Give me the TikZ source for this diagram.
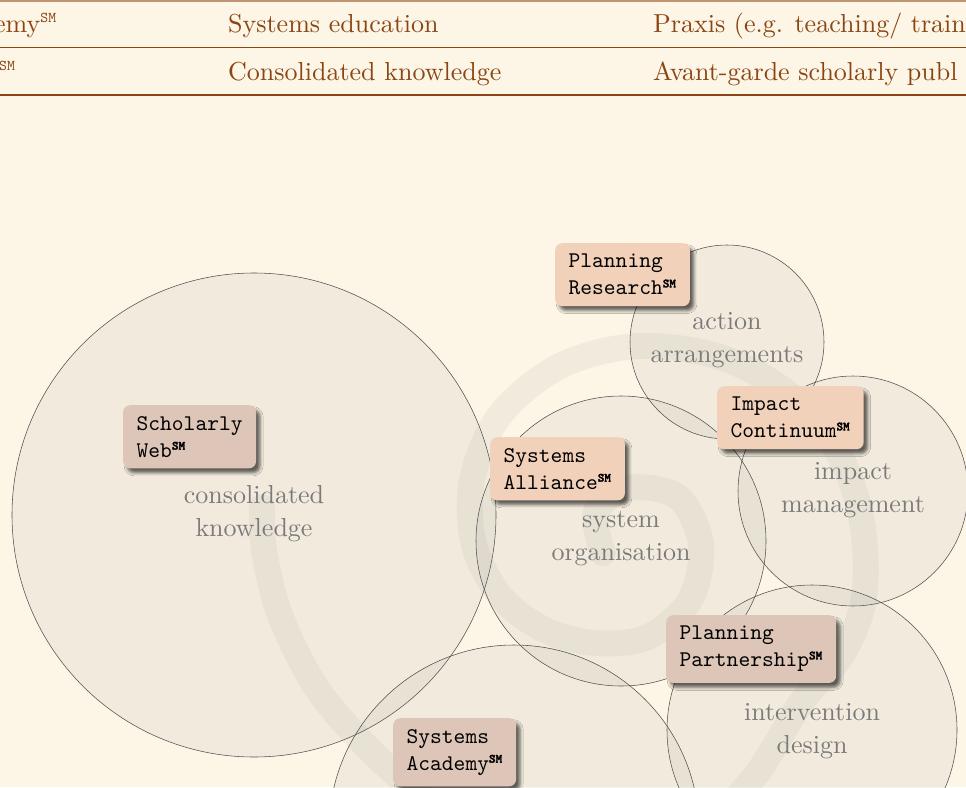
\documentclass[tikz,border=0pt]{standalone}
\usetikzlibrary{shadows.blur}
\definecolor{bgc}{RGB}{253,245,230}
\definecolor{tbrown}{RGB}{139,69,19}
\definecolor{peach}{RGB}{242,209,187}
\definecolor{rose}{RGB}{221,198,184}
\definecolor{lblc}{RGB}{122,122,122}
\definecolor{ringc}{RGB}{80,80,80}
\font\romten="[lmroman10-regular]:mapping=tex-text" at 26pt
\font\monoten="[lmmono10-regular]" at 22.4pt
\font\smbold="[lmmonolt10-bold]:embolden=2.5" at 12.5pt
\font\smlight="[lmmono10-regular]" at 15pt
\newcommand\svcmark{\textsuperscript{\smbold SM}}
\newcommand\tabmark{\textsuperscript{\smlight SM}}
\begin{document}
\begin{tikzpicture}[x=1pt,y=-1pt,
  zone/.style={fill=black!55, fill opacity=0.075, draw=ringc, line width=0.55pt},
  spiralband/.style={draw=black!55, draw opacity=0.075, line width=26pt, line cap=round},
  zonelabel/.style={text=lblc, align=center, inner sep=0pt, font=\fontsize{26}{33}\selectfont\romten},
  boxbase/.style={rounded corners=7pt, inner xsep=13.5pt, inner ysep=11pt, align=left,
    anchor=north west, font=\fontsize{22.4}{27}\selectfont\monoten,
    blur shadow={shadow xshift=4pt, shadow yshift=-4.5pt, shadow blur radius=3pt, shadow opacity=60}},
  boxa/.style={boxbase, fill=peach},
  boxb/.style={boxbase, fill=rose},
  tabtxt/.style={text=tbrown, anchor=base west, inner sep=0pt, font=\fontsize{26}{30}\selectfont\romten},
  rule/.style={draw=tbrown}
]
\useasboundingbox (0,0) rectangle (966,787);
\clip (0,0) rectangle (966,787);
\fill[bgc] (0,0) rectangle (966,787);

% table
\draw[rule, draw opacity=0.55, line width=1.6pt] (0,0.8) -- (966,0.8);
\draw[rule, line width=0.8pt] (0,47) -- (966,47);
\draw[rule, line width=1.7pt] (0,95) -- (966,95);
\node[tabtxt] (t1a) at (-6,32) {emy\tabmark};
\node[tabtxt] (t1b) at (228,32) {Systems education};
\node[tabtxt] (t1c) at (653,32) {Praxis (e.g. teaching/ train};
\node[tabtxt] (t2a) at (-1,80) {\tabmark};
\node[tabtxt] (t2b) at (228,80) {Consolidated knowledge};
\node[tabtxt] (t2c) at (653,80) {Avant-garde scholarly publ};

% spiral
\draw[spiralband] plot[smooth, tension=0.55] coordinates {
 (603,553) (596,512) (628,488) (678,497) (701,545) (690,600) (648,637) (595,643)
 (545,630) (502,598) (474,545) (472,480) (500,415) (560,366) (637,346) (720,357)
 (790,395) (838,452) (862,522) (864,598) (842,655) (803,700) (752,780) (690,838)
 (610,868) (520,858) (440,810) (375,755) (318,690) (280,615) (264,550) (262,507)};

% circles
\path[zone] (254,515) circle[radius=242pt];
\path[zone] (621,541) circle[radius=145pt];
\path[zone] (727,342) circle[radius=97pt];
\path[zone] (853,491) circle[radius=115pt];
\path[zone] (812,730) circle[radius=145pt];
\path[zone] (514,830) circle[radius=185pt];

% labels
\node[zonelabel] (lk) at (254,514) {consolidated\\knowledge};
\node[zonelabel] (lo) at (621,539) {system\\organisation};
\node[zonelabel] (la) at (727,340) {action\\arrangements};
\node[zonelabel] (li) at (853,490) {impact\\management};
\node[zonelabel] (ld) at (812,731) {intervention\\design};

% boxes
\node[boxa] (pr) at (555,243) {Planning\\Research\svcmark};
\node[boxb] (sw) at (123,405) {Scholarly\\Web\svcmark};
\node[boxa] (sa) at (490,437) {Systems\\Alliance\svcmark};
\node[boxa] (ic) at (717,386) {Impact\\Continuum\svcmark};
\node[boxb] (pp) at (666,615) {Planning\\Partnership\svcmark};
\node[boxb] (sy) at (393,718) {Systems\\Academy\svcmark};
\end{tikzpicture}
\end{document}
